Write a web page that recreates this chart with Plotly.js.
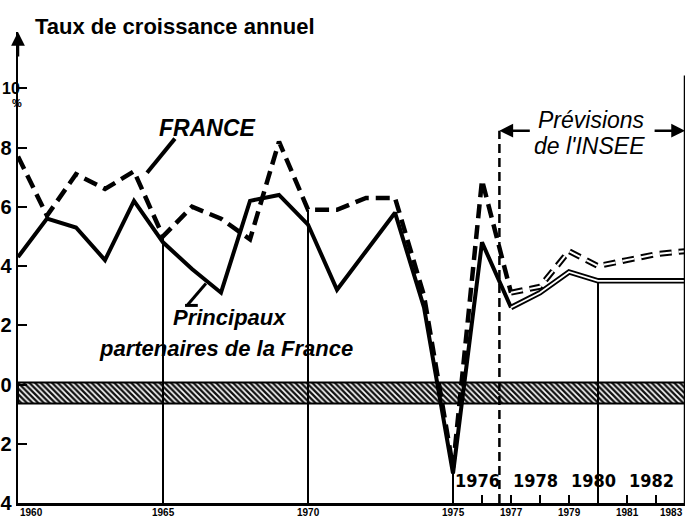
<!DOCTYPE html>
<html>
<head>
<meta charset="utf-8">
<script src="https://cdn.plot.ly/plotly-3.0.1.min.js"></script>
<style>html,body{margin:0;padding:0;background:#fff;}#chart{width:692px;height:520px;}</style>
</head>
<body>
<div id="chart"></div>
<script>
// ---- data ----
const years    = [1960,1961,1962,1963,1964,1965,1966,1967,1968,1969,1970,1971,1972,1973,1974,1975,1976,1977,1978,1979,1980,1981,1982,1983];
const france   = [7.7, 5.7, 7.1, 6.6, 7.2, 5.0, 6.0, 5.6, 4.9, 8.2, 5.9, 5.9, 6.3, 6.3, 3.0, -2.8, 6.9, 3.1, 3.3, 4.5, 4.0, 4.2, 4.4, 4.5];
const partners = [4.3, 5.6, 5.3, 4.2, 6.2, 4.8, 3.9, 3.1, 6.2, 6.4, 5.4, 3.2, 4.5, 5.8, 2.6, -3.0, 4.8, 2.6, 3.1, 3.8, 3.5, 3.5, 3.5, 3.5];
const forecastStart = 1977;
const forecastLineYear = 1976.6;
const dropYears = [1965, 1970, 1975, 1980];
const bandTop = 0.07, bandBottom = -0.64;
const yTickVals = [10, 8, 6, 4, 2, 0, -2, -4];
const yTickText = ['', '8', '6', '4', '2', '0', '2', '4'];
const topTickLabel = '10';
const bottomYearLabels = [1960, 1965, 1970, 1975, 1977, 1979, 1981, 1983];
const innerYearLabels = [1976, 1978, 1980, 1982];
const minorTickYears = [1976, 1977, 1978, 1979, 1980, 1981, 1982];

const X0 = years[0], X1 = years[years.length - 1];
const Y0 = -4, Y1 = 11.9;
const FONT = 'Liberation Sans, Arial, sans-serif';
const NARROW = 'Liberation Sans Narrow, DejaVu Sans Condensed, Arial Narrow, sans-serif';

const fi = years.indexOf(forecastStart);
const histYears = years.slice(0, fi + 1), fcYears = years.slice(fi);
const franceHist = france.slice(0, fi + 1), franceFc = france.slice(fi);
const partHist = partners.slice(0, fi + 1), partFc = partners.slice(fi);

// drop lines from curve to axis
const dx = [], dy = [];
dropYears.forEach(yr => {
  const i = years.indexOf(yr);
  const top = yr >= forecastStart ? partners[i] : france[i];
  dx.push(yr, yr, null); dy.push(top, Y0, null);
});

const traces = [
  { x: [X0, X1, X1, X0, X0], y: [bandTop, bandTop, bandBottom, bandBottom, bandTop],
    type: 'scatter', mode: 'lines', fill: 'toself', fillcolor: '#fff',
    fillpattern: { shape: '\\', fgcolor: '#111', bgcolor: '#fff', size: 4, solidity: 0.6 },
    line: { color: '#000', width: 2 }, hoverinfo: 'skip' },
  { x: dx, y: dy, type: 'scatter', mode: 'lines', line: { color: '#000', width: 2 }, hoverinfo: 'skip' },
  { x: histYears, y: partHist, type: 'scatter', mode: 'lines', name: 'Principaux partenaires',
    line: { color: '#000', width: 4 } },
  { x: histYears, y: franceHist, type: 'scatter', mode: 'lines', name: 'France',
    line: { color: '#000', width: 4.5, dash: '14px,7px' } },
  { x: fcYears, y: partFc, type: 'scatter', mode: 'lines', line: { color: '#000', width: 5.5 } },
  { x: fcYears, y: partFc, type: 'scatter', mode: 'lines', line: { color: '#fff', width: 1.8 } },
  { x: fcYears, y: franceFc, type: 'scatter', mode: 'lines', line: { color: '#000', width: 6, dash: '12px,7px' } },
  { x: fcYears, y: franceFc, type: 'scatter', mode: 'lines', line: { color: '#fff', width: 2, dash: '12px,7px' } }
];

const arrowY = 8.57;
const annotations = [
  { text: '<b>Taux de croissance annuel</b>', xref: 'paper', yref: 'paper', x: 0.022, y: 1.012,
    xanchor: 'left', yanchor: 'middle', showarrow: false, font: { family: FONT, size: 22, color: '#000' } },
  { text: '', xref: 'x', yref: 'y', x: X0, y: Y1, ax: 0, ay: 26, showarrow: true,
    arrowhead: 2, arrowsize: 1.1, arrowwidth: 2.5, arrowcolor: '#000' },
  { text: '<b>' + topTickLabel + '</b>', xref: 'paper', yref: 'y', x: -18 / 667, y: yTickVals[0], xanchor: 'left',
    showarrow: false, font: { family: FONT, size: 16, color: '#000' } },
  { text: '<b>%</b>', xref: 'paper', yref: 'y', x: -0.012, y: 9.5, showarrow: false,
    font: { family: FONT, size: 11, color: '#000' } },
  { text: '<b><i>FRANCE</i></b>', xref: 'x', yref: 'y', x: 1966.52, y: 8.67, showarrow: false,
    font: { family: FONT, size: 23, color: '#000' } },
  { text: '<b><i>Principaux</i></b>', xref: 'x', yref: 'y', x: 1967.31, y: 2.26, showarrow: false,
    font: { family: FONT, size: 22, color: '#000' } },
  { text: '<b><i>partenaires de la France</i></b>', xref: 'x', yref: 'y', x: 1967.17, y: 1.21, showarrow: false,
    font: { family: FONT, size: 22, color: '#000' } },
  { text: '<i>Prévisions</i>', xref: 'x', yref: 'y', x: 1979.79, y: 8.94, showarrow: false,
    font: { family: FONT, size: 23, color: '#000' } },
  { text: "<i>de l'INSEE</i>", xref: 'x', yref: 'y', x: 1979.72, y: 8.06, showarrow: false,
    font: { family: FONT, size: 23, color: '#000' } },
  { text: '', xref: 'x', yref: 'y', axref: 'x', ayref: 'y', x: forecastLineYear, y: arrowY, ax: 1977.7, ay: arrowY,
    showarrow: true, arrowhead: 2, arrowsize: 1.1, arrowwidth: 2.5, arrowcolor: '#000' },
  { text: '', xref: 'x', yref: 'y', axref: 'x', ayref: 'y', x: X1, y: arrowY, ax: 1981.9, ay: arrowY,
    showarrow: true, arrowhead: 2, arrowsize: 1.1, arrowwidth: 2.5, arrowcolor: '#000' }
];
innerYearLabels.forEach(yr => annotations.push({
  text: '<b>' + yr + '</b>', xref: 'x', yref: 'y', x: yr - 0.15, y: -3.24, showarrow: false,
  font: { family: NARROW, size: 18, color: '#000' }
}));
bottomYearLabels.forEach((yr, k) => annotations.push({
  text: '<b>' + yr + '</b>', xref: 'x', yref: 'y', x: yr, y: Y0, yanchor: 'top', yshift: -2,
  xanchor: k === 0 ? 'left' : (k === bottomYearLabels.length - 1 ? 'right' : 'center'),
  showarrow: false, font: { family: FONT, size: 10, color: '#000' }
}));

const shapes = [
  // forecast boundary (dashed)
  { type: 'line', xref: 'x', yref: 'y', x0: forecastLineYear, x1: forecastLineYear, y0: Y0, y1: arrowY,
    line: { color: '#000', width: 2.5, dash: '9px,5px' } },
  // right border
  { type: 'line', xref: 'x', yref: 'y', x0: X1, x1: X1, y0: Y0, y1: 10.43, line: { color: '#000', width: 2.5 } },
  // leader lines
  { type: 'line', xref: 'x', yref: 'y', x0: 1965.41, y0: 8.30, x1: 1964.45, y1: 7.15, line: { color: '#000', width: 4 } },
  { type: 'line', xref: 'x', yref: 'y', x0: 1965.83, y0: 2.67, x1: 1966.48, y1: 3.41, line: { color: '#000', width: 3 } },
  { type: 'line', xref: 'x', yref: 'y', x0: 1965.76, y0: 2.67, x1: 1966.2, y1: 2.67, line: { color: '#000', width: 3 } }
];

const layout = {
  width: 692, height: 520,
  margin: { l: 18, r: 7, t: 32, b: 17, pad: 0 },
  paper_bgcolor: '#fff', plot_bgcolor: '#fff',
  showlegend: false,
  xaxis: {
    range: [X0, X1], showgrid: false, zeroline: false,
    showline: true, linecolor: '#000', linewidth: 2.5,
    tickmode: 'array', tickvals: minorTickYears, ticks: 'inside', ticklen: 8, tickwidth: 2, tickcolor: '#000',
    showticklabels: false
  },
  yaxis: {
    range: [Y0, Y1], showgrid: false, zeroline: false,
    showline: true, linecolor: '#000', linewidth: 2.5,
    tickmode: 'array', tickvals: yTickVals, ticktext: yTickText,
    ticks: 'inside', ticklen: 9, tickwidth: 2, tickcolor: '#000',
    tickfont: { family: FONT, size: 20, color: '#000', weight: 'bold' }
  },
  annotations: annotations,
  shapes: shapes
};

Plotly.newPlot('chart', traces, layout, { staticPlot: true, displayModeBar: false });
</script>
</body>
</html>
